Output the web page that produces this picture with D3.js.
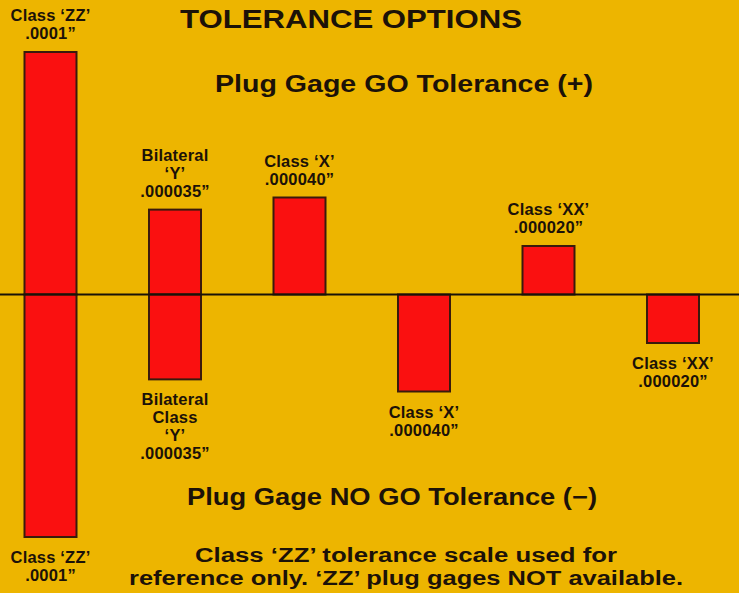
<!DOCTYPE html>
<html>
<head>
<meta charset="utf-8">
<script src="https://cdn.jsdelivr.net/npm/d3@7"></script>
<style>
  html, body { margin: 0; padding: 0; background: #EDB500; }
  svg { display: block; }
  text { font-family: "Liberation Sans", Arial, sans-serif; font-weight: 700; fill: #1c1208; }
</style>
</head>
<body>
<svg id="chart" width="739" height="593"></svg>
<script>
// ---- data ----
const categories = ["ZZ", "Y", "X GO", "X NO GO", "XX GO", "XX NO GO"];
const goValues   = [0.0001, 0.000035, 0.000040, 0, 0.000020, 0];      // plug gage GO tolerance (+)
const noGoValues = [-0.0001, -0.000035, 0, -0.000040, 0, -0.000020];  // plug gage NO GO tolerance (-)
const goLabels = [
  ["Class \u2018ZZ\u2019", ".0001\u201D"],
  ["Bilateral", "\u2018Y\u2019", ".000035\u201D"],
  ["Class \u2018X\u2019", ".000040\u201D"],
  [],
  ["Class \u2018XX\u2019", ".000020\u201D"],
  []
];
const noGoLabels = [
  ["Class \u2018ZZ\u2019", ".0001\u201D"],
  ["Bilateral", "Class", "\u2018Y\u2019", ".000035\u201D"],
  [],
  ["Class \u2018X\u2019", ".000040\u201D"],
  [],
  ["Class \u2018XX\u2019", ".000020\u201D"]
];
const titleText  = "TOLERANCE OPTIONS";
const goTitle    = "Plug Gage GO Tolerance (+)";
const noGoTitle  = "Plug Gage NO GO Tolerance (\u2212)";
const footnote   = ["Class \u2018ZZ\u2019 tolerance scale used for",
                    "reference only. \u2018ZZ\u2019 plug gages NOT available."];

// ---- layout ----
const W = 739, H = 593;
const svg = d3.select("#chart");
const x = d3.scalePoint().domain(categories).range([50.5, 673]);
const y = d3.scaleLinear().domain([-0.0001, 0.0001]).range([537, 52]);
const barW = 52;
const lineH = 18;

const rows = categories.map((c, i) => ({ c, go: goValues[i], no: noGoValues[i], gl: goLabels[i], nl: noGoLabels[i] }));

const barStyle = sel => sel.attr("fill", "#FA1010").attr("stroke", "#3a1a0c").attr("stroke-width", 2);

svg.selectAll("rect.go").data(rows.filter(d => d.go > 0)).join("rect")
  .attr("class", "go")
  .attr("x", d => x(d.c) - barW / 2).attr("width", barW)
  .attr("y", d => y(d.go)).attr("height", d => y(0) - y(d.go))
  .call(barStyle);

svg.selectAll("rect.no").data(rows.filter(d => d.no < 0)).join("rect")
  .attr("class", "no")
  .attr("x", d => x(d.c) - barW / 2).attr("width", barW)
  .attr("y", y(0)).attr("height", d => y(d.no) - y(0))
  .call(barStyle);

// baseline over bars
svg.append("line")
  .attr("x1", 0).attr("x2", W)
  .attr("y1", y(0)).attr("y2", y(0))
  .attr("stroke", "#1a1208").attr("stroke-width", 2);

// bar labels
rows.forEach(d => {
  const n = d.gl.length;
  d.gl.forEach((t, k) => {
    svg.append("text")
      .attr("x", x(d.c)).attr("y", y(d.go) - 13 - (n - 1 - k) * lineH)
      .attr("text-anchor", "middle").attr("font-size", 16.5)
      .attr("letter-spacing", 0.2)
      .text(t);
  });
  d.nl.forEach((t, k) => {
    svg.append("text")
      .attr("x", x(d.c)).attr("y", y(d.no) + 26 + k * lineH)
      .attr("text-anchor", "middle").attr("font-size", 16.5)
      .attr("letter-spacing", 0.2)
      .text(t);
  });
});

// headline texts
const big = (t, x0, w, yb, fs) => svg.append("text")
  .attr("x", x0).attr("y", yb).attr("font-size", fs)
  .attr("textLength", w).attr("lengthAdjust", "spacingAndGlyphs")
  .text(t);

big(titleText, 180, 342, 28, 25);
big(goTitle, 215, 378, 92, 23);
big(noGoTitle, 187, 410, 505, 23);
big(footnote[0], 195, 422, 562, 19.5);
big(footnote[1], 129, 554, 585, 19.5);
</script>
</body>
</html>
